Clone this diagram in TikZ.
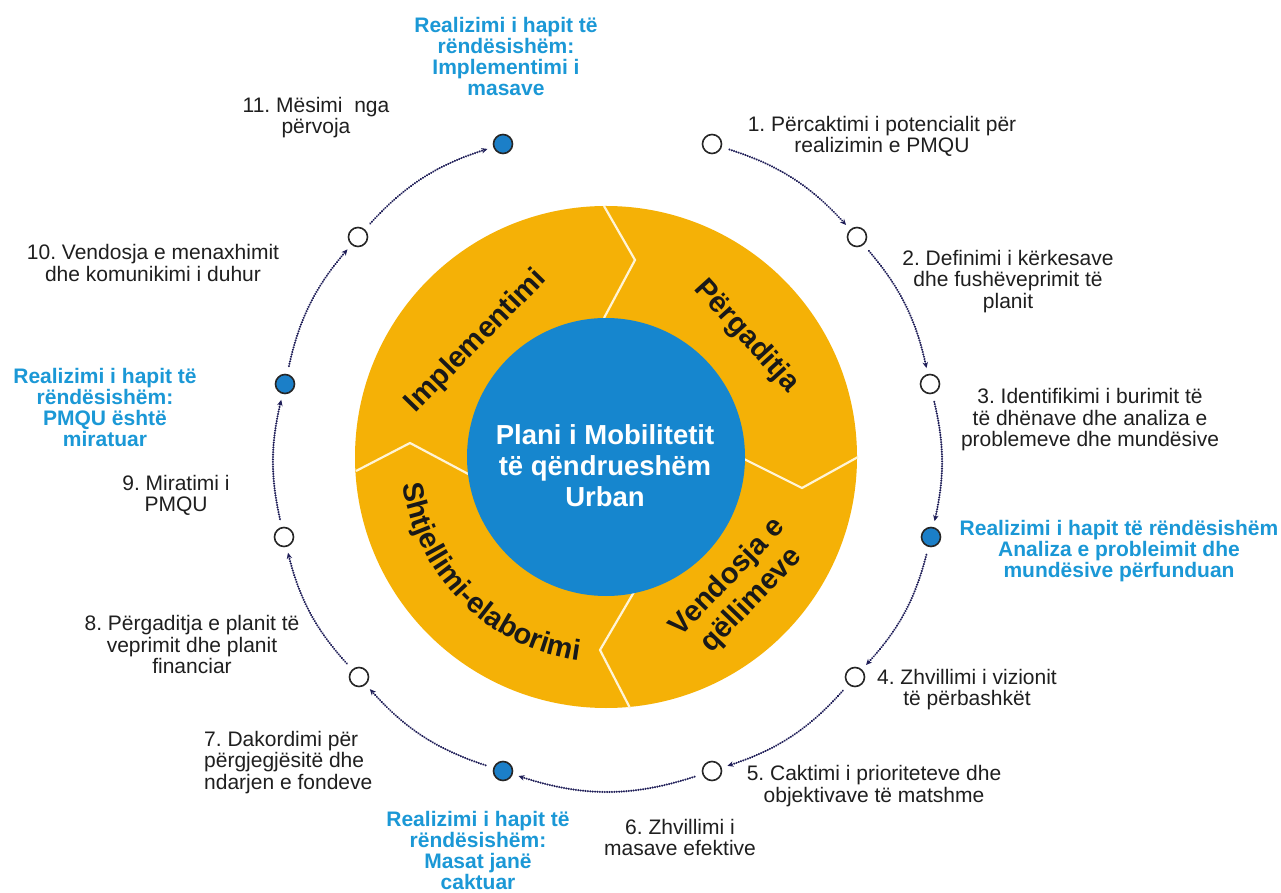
\documentclass[tikz,border=0pt]{standalone}
\usepackage{fontspec}
\setmainfont{Liberation Sans}
\usetikzlibrary{arrows.meta,decorations.text}
\definecolor{ringorange}{HTML}{F5B106}
\definecolor{coreblue}{HTML}{1686CE}
\definecolor{mileblue}{HTML}{1B7FC8}
\definecolor{labelblue}{HTML}{1B98D6}
\definecolor{navy}{HTML}{1F1E58}
\definecolor{divider}{HTML}{FFF4D6}
\frenchspacing
\begin{document}
\begin{tikzpicture}[x=1pt,y=1pt,
  lbl/.style={font=\fontsize{21}{21.5}\selectfont, text=black!88, align=center, inner sep=0pt},
  mlbl/.style={font=\bfseries\fontsize{21}{21}\selectfont, text=labelblue, align=center, inner sep=0pt},
  stepdot/.style={circle, draw=black!85, line width=1.6pt, minimum size=19pt, inner sep=0pt, fill=white},
  miledot/.style={stepdot, fill=mileblue},
  flow/.style={draw=navy, line width=2.3pt, line cap=round, dash pattern=on 0.01pt off 2.4pt, -{Stealth[length=6pt,width=5.5pt]}, shorten <=8pt, shorten >=6pt},
  divline/.style={draw=divider, line width=2.2pt, line join=miter},
  sector/.style={font=\bfseries\fontsize{29}{33}\selectfont, text=black!90, inner sep=0pt, align=center}
]
\useasboundingbox (0,0) rectangle (1281,892);
\fill[white] (0,0) rectangle (1281,892);
% ring
\node[circle, fill=ringorange, minimum size=502pt, inner sep=0pt] (ring) at (606,435) {};
\draw[divline] (604,686) -- (635,632) -- (604,574);
\draw[divline] (740,435) -- (802,404) -- (858,435);
\draw[divline] (634,300) -- (600,242) -- (630,184);
\draw[divline] (356,421) -- (410,449) -- (472,416);
\node[circle, fill=coreblue, minimum size=278pt, inner sep=0pt] (core) at (606,435) {};
\node[font=\bfseries\fontsize{27.5}{31}\selectfont, text=white, align=center, inner sep=0pt] (coretext) at (605,426) {Plani i Mobilitetit\\të qëndrueshëm\\Urban};
% sector texts
\node[sector, rotate=45.6] (secimpl) at (476,550.5) {Implementimi};
\node[sector, rotate=-47.8] (secperg) at (746.5,555.5) {Përgaditja};
\node[sector, rotate=46] (secvend) at (740,303) {Vendosja e\\qëllimeve};
\path[decorate, decoration={text along path, text align=center,
  text={|\bfseries\fontsize{29}{29}\selectfont\color{black!90}|Shtjellimi-elaborimi}}]
  (606,435) ++(184:205) arc[start angle=184, end angle=266, radius=205];
% step circles
\node[stepdot] (c1) at (712,748) {};
\node[stepdot] (c2) at (857,655) {};
\node[stepdot] (c3) at (930,508) {};
\node[miledot] (c4) at (931,355) {};
\node[stepdot] (c5) at (855,215) {};
\node[stepdot] (c6) at (712,121) {};
\node[miledot] (c7) at (503,121) {};
\node[stepdot] (c8) at (359,215) {};
\node[stepdot] (c9) at (284,355) {};
\node[miledot] (c10) at (285,508) {};
\node[stepdot] (c11) at (358,655) {};
\node[miledot] (c12) at (503,748) {};
% connectors
\draw[flow] (c1) to[bend left=15] (c2);
\draw[flow] (c2) to[bend left=14] (c3);
\draw[flow] (c3) to[bend left=13] (c4);
\draw[flow] (c4) to[bend left=14] (c5);
\draw[flow] (c5) to[bend left=15] (c6);
\draw[flow] (c6) to[bend left=18] (c7);
\draw[flow] (c7) to[bend left=15] (c8);
\draw[flow] (c8) to[bend left=14] (c9);
\draw[flow] (c9) to[bend left=13] (c10);
\draw[flow] (c10) to[bend left=14] (c11);
\draw[flow] (c11) to[bend left=15] (c12);
% labels
\node[lbl] (l1) at (882,755.5) {1. Përcaktimi i potencialit për\\realizimin e PMQU};
\node[lbl] (l2) at (1008,610.5) {2. Definimi i kërkesave\\dhe fushëveprimit të\\planit};
\node[lbl] (l3) at (1090,472) {3. Identifikimi i burimit të\\të dhënave dhe analiza e\\problemeve dhe mundësive};
\node[mlbl] (m1) at (1119,341) {Realizimi i hapit të rëndësishëm\\Analiza e probleimit dhe\\mundësive përfunduan};
\node[lbl] (l4) at (967,202.5) {4. Zhvillimi i vizionit\\të përbashkët};
\node[lbl] (l5) at (874,106) {5. Caktimi i prioriteteve dhe\\objektivave të matshme};
\node[lbl] (l6) at (680,54.5) {6. Zhvillimi i\\masave efektive};
\node[mlbl] (m2) at (478,42) {Realizimi i hapit të\\rëndësishëm:\\Masat janë\\caktuar};
\node[lbl, align=left, anchor=west] (l7) at (204,129.5) {7. Dakordimi për\\përgjegjësitë dhe\\ndarjen e fondeve};
\node[lbl] (l8) at (192,247.5) {8. Përgaditja e planit të\\veprimit dhe planit\\financiar};
\node[lbl] (l9) at (176,396.5) {9. Miratimi i\\PMQU};
\node[mlbl] (m3) at (105,484.5) {Realizimi i hapit të\\rëndësishëm:\\PMQU është\\miratuar};
\node[lbl] (l10) at (153,629) {10. Vendosja e menaxhimit\\dhe komunikimi i duhur};
\node[lbl] (l11) at (316,774.5) {11. Mësimi\ \ nga\\përvoja};
\node[mlbl] (m4) at (506,835.5) {Realizimi i hapit të\\rëndësishëm:\\Implementimi i\\masave};
\end{tikzpicture}
\end{document}
